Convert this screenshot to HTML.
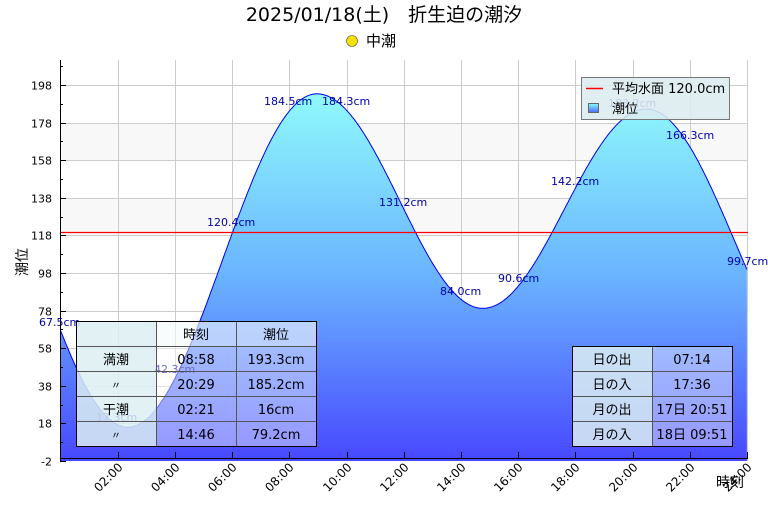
<!DOCTYPE html>
<html><head><meta charset="utf-8"><style>
body{margin:0;background:#fff;width:768px;height:512px;overflow:hidden;font-family:"Liberation Sans","Noto Sans CJK JP",sans-serif}
svg text{font-family:"DejaVu Sans","Noto Sans CJK JP",sans-serif}
</style></head><body>
<svg id="s" width="768" height="512" xmlns="http://www.w3.org/2000/svg">
<defs>
<linearGradient id="g" x1="0" y1="90" x2="0" y2="461" gradientUnits="userSpaceOnUse">
<stop offset="0" stop-color="#90fbfb"/><stop offset="0.5" stop-color="#6ab4ff"/><stop offset="1" stop-color="#4848ff"/></linearGradient>
<linearGradient id="lg" x1="0" y1="0" x2="0" y2="1"><stop offset="0" stop-color="#8ff"/><stop offset="1" stop-color="#4a6aff"/></linearGradient>
</defs>
<rect x="60" y="123" width="688" height="37.6" fill="#f8f8f8"/>
<rect x="60" y="198" width="688" height="37.6" fill="#f8f8f8"/>
<g id="grid" stroke="#ccc" stroke-width="1"></g>
<path id="area" fill="url(#g)" stroke="none"/>
<path id="line" fill="none" stroke="#0000ee" stroke-width="1"/>
<line x1="60" y1="232.5" x2="748" y2="232.5" stroke="#f00" stroke-width="1.2"/>
<g id="vl" font-size="11" fill="#0000aa"></g>
<g id="axes" stroke="#000"></g>
<g id="yl" font-size="11" fill="#000" text-anchor="end"></g>
<g id="xl" font-size="12" fill="#000"></g>
<text x="384" y="21" font-size="19" text-anchor="middle">2025/01/18(土)　折生迫の潮汐</text>
<circle cx="352" cy="41" r="5.5" fill="#f5e000" stroke="#554" stroke-width="0.6"/>
<text x="366" y="46" font-size="15">中潮</text>
<text transform="translate(27,262) rotate(-90)" font-size="14" text-anchor="middle">潮位</text>
<text x="716" y="487" font-size="14">時刻</text>
<!-- legend -->
<rect x="581.5" y="77.5" width="148" height="42" fill="rgba(220,236,240,0.88)" stroke="#777"/>
<line x1="586" y1="88.5" x2="603" y2="88.5" stroke="#f00" stroke-width="1.5"/>
<text x="612" y="93" font-size="13">平均水面 120.0cm</text>
<rect x="588.5" y="103.5" width="10" height="9" fill="url(#lg)" stroke="#666"/>
<text x="612" y="113" font-size="13">潮位</text>
<!-- left table -->
<g font-size="13" text-anchor="middle" stroke-width="1">
<rect x="76" y="321" width="80" height="125" fill="rgba(220,238,242,0.85)"/>
<rect x="156" y="321" width="160" height="125" fill="rgba(255,255,255,0.42)"/>
<rect x="156" y="321" width="160" height="25" fill="rgba(235,245,250,0.35)"/>
<g stroke="#555">
<line x1="76" y1="346.5" x2="316" y2="346.5"/><line x1="76" y1="371.5" x2="316" y2="371.5"/><line x1="76" y1="396.5" x2="316" y2="396.5"/><line x1="76" y1="421.5" x2="316" y2="421.5"/>
<line x1="156.5" y1="321" x2="156.5" y2="446"/><line x1="236.5" y1="321" x2="236.5" y2="446"/>
</g>
<rect x="76.5" y="321.5" width="240" height="125" fill="none" stroke="#000"/>
<text x="196" y="339">時刻</text><text x="276" y="339">潮位</text>
<text x="116" y="364">満潮</text><text x="196" y="364">08:58</text><text x="276" y="364">193.3cm</text>
<text x="116" y="389" font-size="10">〃</text><text x="196" y="389">20:29</text><text x="276" y="389">185.2cm</text>
<text x="116" y="414">干潮</text><text x="196" y="414">02:21</text><text x="276" y="414">16cm</text>
<text x="116" y="439" font-size="10">〃</text><text x="196" y="439">14:46</text><text x="276" y="439">79.2cm</text>
</g>
<!-- right table -->
<g font-size="13" text-anchor="middle">
<rect x="572" y="346" width="80" height="100" fill="rgba(220,238,242,0.85)"/>
<rect x="652" y="346" width="80" height="100" fill="rgba(255,255,255,0.42)"/>
<g stroke="#555"><line x1="572" y1="371.5" x2="732" y2="371.5"/><line x1="572" y1="396.5" x2="732" y2="396.5"/><line x1="572" y1="421.5" x2="732" y2="421.5"/><line x1="652.5" y1="346" x2="652.5" y2="446"/></g>
<rect x="572.5" y="346.5" width="160" height="100" fill="none" stroke="#000"/>
<text x="612" y="364">日の出</text><text x="692" y="364">07:14</text>
<text x="612" y="389">日の入</text><text x="692" y="389">17:36</text>
<text x="612" y="414">月の出</text><text x="692" y="414">17日 20:51</text>
<text x="612" y="439">月の入</text><text x="692" y="439">18日 09:51</text>
</g>
</svg>
<script>
var NS="http://www.w3.org/2000/svg";
function X(t){return 60.5+t*28.6;}
function Y(v){return 461-(v+2)*1.88;}
var ex=[[-3.9,182],[2.35,16],[8.967,193.3],[14.767,79.2],[20.483,185.2],[26.6,47]];
function val(t){for(var i=0;i<ex.length-1;i++){var a=ex[i],b=ex[i+1];if(t>=a[0]&&t<=b[0]){var p=(t-a[0])/(b[0]-a[0]);return b[1]+(a[1]-b[1])*(1+Math.cos(Math.PI*p))/2;}}return 0;}
var pts=[];for(var t=0;t<=24.001;t+=0.05){pts.push(X(t).toFixed(1)+","+Y(val(t)).toFixed(1));}
document.getElementById("line").setAttribute("d","M"+pts.join("L"));
document.getElementById("area").setAttribute("d","M"+X(0)+",461L"+pts.join("L")+"L"+X(24)+",461Z");
function el(p,tag,at,txt){var e=document.createElementNS(NS,tag);for(var k in at)e.setAttribute(k,at[k]);if(txt)e.textContent=txt;document.getElementById(p).appendChild(e);return e;}
for(var h=2;h<=24;h+=2){var x=Math.round(X(h))+0.5;el("grid","line",{x1:x,y1:60,x2:x,y2:461});}
for(var v=18;v<=198;v+=20){var y=Math.round(Y(v))+0.5;el("grid","line",{x1:60,y1:y,x2:748,y2:y});}
el("axes","line",{x1:60.5,y1:60,x2:60.5,y2:462});
el("axes","line",{x1:60,y1:458.5,x2:748,y2:458.5});
for(var v=-2;v<=198;v+=20){var y=Math.round(Y(v))+0.5;el("axes","line",{x1:60,y1:y,x2:66,y2:y});el("yl","text",{x:52,y:y+4},String(v));
 var y2=Math.round(Y(v+10))+0.5;if(v+10<210)el("axes","line",{x1:60,y1:y2,x2:63,y2:y2});}
for(var h=2;h<=24;h+=2){var x=Math.round(X(h))+0.5;el("axes","line",{x1:x,y1:452,x2:x,y2:458});
 var lab=(h<10?"0":"")+h+":00";el("xl","text",{transform:"translate("+(x+5)+",468) rotate(-45)","text-anchor":"end"},lab);}
var labs=[[39,326,"67.5cm"],[96,421,"17.3cm"],[154,373,"42.3cm"],[207,226,"120.4cm"],[264,105,"184.5cm"],[322,105,"184.3cm"],[379,206,"131.2cm"],[440,295,"84.0cm"],[498,282,"90.6cm"],[551,185,"142.2cm"],[608,107,"183.2cm"],[666,139,"166.3cm"],[727,265,"99.7cm"]];
labs.forEach(function(l){el("vl","text",{x:l[0],y:l[1]},l[2]);});
</script>
</body></html>
